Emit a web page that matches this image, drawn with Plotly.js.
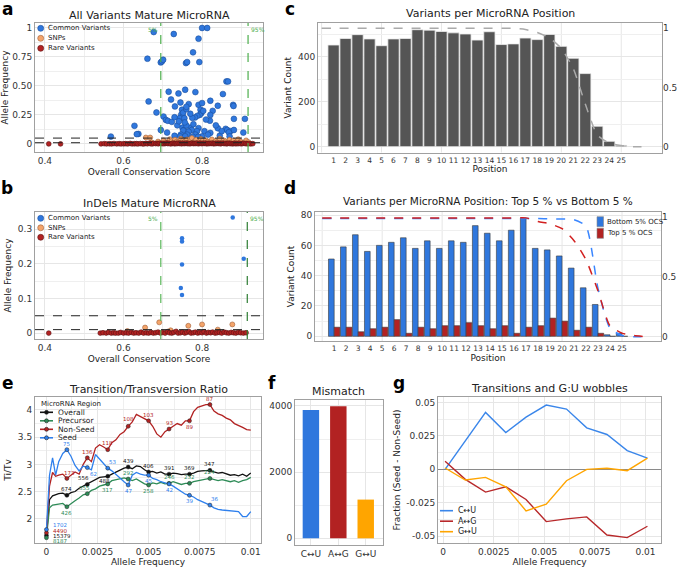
<!DOCTYPE html>
<html><head><meta charset="utf-8">
<script src="https://cdn.plot.ly/plotly-3.0.1.min.js"></script>
<style>html,body{margin:0;padding:0;background:#fff}#chart{width:677px;height:568px}</style>
</head><body><div id="chart"></div><script>
// ---------- Panel a: All Variants Mature MicroRNA ----------
const aCommonX = [0.677,0.728,0.800,0.813,0.791,0.777,0.661,0.695,0.698,0.701,0.759,0.762,0.793,0.862,0.866,0.853,0.715,0.757,0.783,0.740,0.721,0.664,0.821,0.745,0.791,0.800,0.879,0.880,0.840,0.731,0.766,0.749,0.747,0.751,0.743,0.755,0.752,0.760,0.796,0.798,0.794,0.788,0.782,0.803,0.684,0.702,0.708,0.713,0.723,0.827,0.821,0.820,0.881,0.909,0.628,0.638,0.634,0.568,0.711,0.750,0.754,0.752,0.746,0.744,0.770,0.774,0.766,0.762,0.791,0.787,0.783,0.800,0.840,0.860,0.864,0.872,0.881,0.868,0.905,0.821,0.760,0.737,0.778,0.806,0.815,0.730,0.757,0.776,0.790,0.845,0.870,0.756,0.741,0.775,0.730,0.810,0.835,0.850,0.695,0.770,0.760];
const aCommonY = [0.965,0.948,1.0,1.0,0.908,0.79,0.735,0.703,0.712,0.726,0.697,0.706,0.706,0.539,0.539,0.43,0.45,0.467,0.447,0.435,0.383,0.366,0.372,0.357,0.337,0.352,0.337,0.327,0.329,0.323,0.343,0.295,0.252,0.236,0.222,0.222,0.27,0.3,0.295,0.265,0.25,0.242,0.228,0.285,0.271,0.236,0.207,0.199,0.19,0.285,0.25,0.2,0.216,0.216,0.156,0.086,0.084,0.063,0.098,0.14,0.12,0.115,0.08,0.065,0.14,0.12,0.105,0.08,0.136,0.11,0.08,0.065,0.135,0.13,0.12,0.11,0.12,0.1,0.098,0.095,0.16,0.16,0.17,0.11,0.08,0.07,0.065,0.062,0.06,0.07,0.065,0.185,0.195,0.225,0.23,0.21,0.16,0.11,0.12,0.26,0.32];
const aSnpX = [0.657,0.668,0.672,0.688,0.702,0.708,0.713,0.718,0.722,0.727,0.731,0.735,0.739,0.742,0.746,0.749,0.752,0.756,0.759,0.762,0.766,0.770,0.774,0.778,0.781,0.785,0.789,0.793,0.797,0.801,0.806,0.810,0.815,0.820,0.825,0.830,0.835,0.840,0.845,0.850,0.855,0.860,0.865,0.870,0.875,0.880,0.886,0.892,0.898,0.905,0.912,0.918];
const aSnpY = [0.055,0.055,0.012,0.02,0.03,0.015,0.01,0.04,0.022,0.012,0.035,0.018,0.008,0.025,0.045,0.012,0.03,0.02,0.01,0.038,0.015,0.028,0.05,0.012,0.022,0.035,0.01,0.018,0.042,0.025,0.012,0.03,0.02,0.015,0.038,0.01,0.025,0.018,0.045,0.012,0.03,0.022,0.01,0.035,0.015,0.028,0.012,0.04,0.02,0.01,0.03,0.015];
const aRareX = [0.41,0.44,0.543,0.551,0.557,0.564,0.57,0.576,0.583,0.589,0.594,0.601,0.606,0.611,0.617,0.622,0.628,0.633,0.637,0.643,0.648,0.652,0.657,0.661,0.666,0.669,0.673,0.677,0.682,0.686,0.689,0.693,0.697,0.70,0.703,0.707,0.71,0.713,0.716,0.72,0.724,0.727,0.73,0.733,0.736,0.739,0.742,0.745,0.748,0.751,0.754,0.757,0.76,0.763,0.766,0.769,0.772,0.775,0.778,0.781,0.784,0.787,0.79,0.793,0.796,0.799,0.802,0.805,0.808,0.811,0.814,0.817,0.82,0.823,0.826,0.829,0.832,0.835,0.838,0.841,0.844,0.847,0.85,0.853,0.856,0.859,0.862,0.865,0.868,0.871,0.874,0.877,0.88,0.883,0.886,0.889,0.892,0.895,0.899,0.903,0.907,0.911,0.915,0.919,0.924,0.929];
const aRareY = [0,0,
 0,0.002,0,0.001,0,0.003,0,0.002,0,0.001,
 0.002,0,0.004,0,0.001,0.002,0,0.003,0.001,0,
 0.004,0.001,0.006,0.002,0,0.005,0.002,0.004,0.001,0.006,
 0.002,0.005,0.001,0.004,0.007,0.002,0.005,0,0.003,0.006,
 0.001,0.004,0.002,0.007,0.003,0.005,0.001,0.006,0.002,0.004,
 0.006,0.002,0.005,0.001,0.004,0.007,0.002,0.005,0.003,0.006,
 0.001,0.004,0.006,0.002,0.005,0.003,0.007,0.001,0.004,0.002,
 0.005,0.003,0.006,0.001,0.004,0.002,0.006,0.003,0.005,0.001,
 0.004,0.006,0.002,0.005,0.001,0.003,0.006,0.002,0.004,0.001,
 0.003,0.005,0.001,0.004,0.002,0.006,0.001,0.003,0.005,0.002,
 0.001,0.003,0,0.002];
// ---------- Panel b: InDels Mature MicroRNA ----------
const bCommonX = [0.878,0.749,0.749,0.749,0.746,0.749,0.906];
const bCommonY = [0.333,0.273,0.264,0.198,0.13,0.11,0.214];
const bSnpX = [0.655,0.691,0.765,0.800,0.877,0.720,0.840,0.610];
const bSnpY = [0.016,0.031,0.021,0.025,0.025,0.008,0.010,0.006];
const bRareX = [0.41,0.541,0.548,0.556,0.562,0.569,0.575,0.58,0.587,0.593,0.6,0.607,0.613,0.62,0.626,0.632,0.639,0.645,0.651,0.658,0.664,0.67,0.676,0.682,0.688,0.694,0.70,0.706,0.712,0.717,0.723,0.728,0.734,0.739,0.745,0.75,0.756,0.761,0.767,0.772,0.778,0.783,0.789,0.794,0.8,0.805,0.811,0.816,0.822,0.827,0.833,0.838,0.844,0.85,0.856,0.862,0.868,0.874,0.88,0.886,0.892,0.898,0.905,0.912];
const bRareY = [0, 0,0.001,0,0.002,0,0.001,0,0,0.002,0, 0.001,0,0.002,0,0.001,0,0.003,0,0.001,0, 0.002,0,0.001,0.003,0,0.002,0,0.004,0.001,0, 0.002,0.005,0,0.001,0.003,0,0.002,0.004,0,0.001, 0.003,0,0.002,0.001,0.004,0,0.002,0.001,0.003,0, 0.001,0.002,0,0.003,0.001,0,0.002,0.001,0,0.002, 0.001,0,0.001];
const lowThresholds = [0.05, 0.01];
const aPercentileLines = [0.695, 0.917];
const bPercentileLines = [0.695, 0.915];
// ---------- Panel c: Variants per MicroRNA Position ----------
const positions = [1,2,3,4,5,6,7,8,9,10,11,12,13,14,15,16,17,18,19,20,21,22,23,24,25];
const cCounts = [452,481,498,479,449,479,481,520,518,512,506,501,474,511,454,457,483,476,499,446,393,325,91,24,6];
const curvePos = [0,1,2,3,4,5,6,7,8,9,10,11,12,13,14,15,16,17,18,19,20,21,22,23,24,25,26,27];
const cCurve = [1,1,1,1,1,1,1,1,1,1,1,1,1,1,1,1,1,0.99,0.965,0.92,0.83,0.66,0.36,0.1,0.03,0.01,0.0,0.0];
// ---------- Panel d: Top 5 % vs Bottom 5 % ----------
const dBottom = [51,59,67,56,60,62,65,58,63,58,63,62,73,68,63,70,78,58,57,53,45,32,21,1,2];
const dTop = [6,6,3,5,6,11,2,6,5,7,7,9,7,5,7,2,6,7,12,10,4,6,2,0,0];
const dBottomCurve = [0.985,0.985,0.985,0.985,0.985,0.985,0.985,0.985,0.985,0.985,0.985,0.985,0.985,0.985,0.985,0.985,0.985,0.985,0.985,0.982,0.98,0.975,0.92,0.4,0.07,0.01,0,0];
const dTopCurve = [0.99,0.99,0.99,0.99,0.99,0.99,0.99,0.99,0.99,0.99,0.99,0.99,0.99,0.99,0.99,0.99,0.99,0.99,0.96,0.94,0.9,0.8,0.64,0.38,0.09,0.03,0.01,0];
// ---------- Panel e: Transition/Transversion Ratio ----------
const eX = [0,0.00015,0.0003,0.00045,0.0006,0.0008,0.001,0.0012,0.0014,0.0016,0.0018,0.002,0.0022,0.0024,0.0026,0.0028,0.003,0.0032,0.0034,0.0036,0.0038,0.004,0.0042,0.0044,0.0046,0.0048,0.005,0.0052,0.0054,0.0056,0.0058,0.006,0.0062,0.0064,0.0066,0.0068,0.007,0.0072,0.0074,0.0076,0.0078,0.008,0.0082,0.0084,0.0086,0.0088,0.009,0.0092,0.0094,0.0096,0.0098,0.01];
const eOverall = [1.69,2.35,2.42,2.44,2.46,2.47, 2.43,2.48,2.5,2.56,2.6, 2.63,2.68,2.72,2.76,2.77, 2.78,2.82,2.86,2.9,2.93, 2.95,2.92,2.97,2.96,2.9, 2.86,2.87,2.84,2.86,2.82, 2.82,2.84,2.83,2.81,2.82, 2.82,2.84,2.87,2.88,2.89, 2.89,2.86,2.84,2.85,2.83, 2.8,2.81,2.79,2.82,2.78, 2.84];
const ePrecursor = [1.65,2.2,2.25,2.26,2.27,2.28, 2.22,2.28,2.33,2.38,2.44, 2.46,2.52,2.55,2.6,2.62, 2.64,2.7,2.72,2.74,2.75, 2.73,2.7,2.73,2.68,2.64, 2.62,2.66,2.64,2.67,2.64, 2.65,2.68,2.65,2.63,2.65, 2.65,2.68,2.7,2.72,2.73, 2.74,2.72,2.7,2.72,2.7, 2.68,2.7,2.67,2.7,2.72, 2.76];
const eNonSeed = [1.74,2.6,2.85,2.78,2.8,2.82, 2.74,2.8,2.86,2.82,3.0, 3.12,3.05,3.3,3.36,3.32, 3.27,3.4,3.45,3.55,3.6, 3.7,3.78,3.92,3.88,3.85, 3.8,3.7,3.56,3.5,3.6, 3.65,3.7,3.75,3.72,3.8, 3.8,3.97,4.05,4.08,4.1, 4.1,3.98,3.93,3.9,3.85, 3.82,3.75,3.72,3.68,3.64, 3.63];
const eSeed = [1.8,2.8,3.12,2.8,3.05,3.2, 3.27,3.15,2.98,2.88,2.97, 2.94,2.9,3.18,3.1,3.0, 2.93,2.88,2.82,2.75,2.68, 2.62,2.8,2.85,2.82,2.8, 2.8,2.74,2.72,2.68,2.66, 2.64,2.6,2.55,2.5,2.45, 2.43,2.4,2.35,2.32,2.28, 2.25,2.2,2.17,2.16,2.15, 2.14,2.13,2.13,2.04,2.04, 2.13];
const eMarkX = [0,0.001,0.002,0.003,0.004,0.005,0.006,0.007,0.008];
const nOverall = [15379,674,556,488,439,406,391,369,347];
const nPrecursor = [8187,426,355,317,292,258,246,232,224];
const nNonSeed = [4490,173,136,118,108,103,93,89,87];
const nSeed = [1702,75,62,53,47,45,42,39,36];
// ---------- Panel f: Mismatch ----------
const mismatchLabels = ['C\u2194U','A\u2194G','G\u2194U'];
const mismatchCounts = [3880,3990,1170];
// ---------- Panel g: Transitions and G:U wobbles ----------
const gX = [0.0001,0.0011,0.0021,0.0031,0.0041,0.0051,0.0061,0.0071,0.0081,0.0091,0.0101];
const gCU = [0,0.021,0.0425,0.0275,0.039,0.048,0.045,0.031,0.026,0.014,0.0083];
const gAG = [0.006,-0.0075,-0.017,-0.013,-0.0225,-0.039,-0.037,-0.0355,-0.049,-0.051,-0.0425];
const gGU = [0.001,-0.008,-0.006,-0.013,-0.031,-0.026,-0.0085,0.0,0.0008,-0.001,0.0083];

// ---------- styling ----------
const W = 677, H = 568;
const FONT = 'DejaVu Sans, sans-serif';
const BLUE = '#2f77dd', RED = '#b22222', GREEN = '#2e8b57', ORANGE = '#ffa500', SNP = '#f4a46a', BLACK = '#111111';
const dx = (l, r) => [l / W, r / W];
const dy = (t, b) => [1 - b / H, 1 - t / H];
const px = v => v / W, py = v => 1 - v / H;
function axis(o) {
  return Object.assign({showline:true, mirror:true, linecolor:'#a0a0a0', linewidth:1, showgrid:true,
    gridcolor:'#e6e6e6', gridwidth:1, zeroline:false, ticks:'', fixedrange:true,
    tickfont:{family:FONT, size:9, color:'#333'}}, o);
}
function atitle(t, s) { return {text:t, font:{family:FONT, size:9, color:'#222'}, standoff:s}; }
const minorGrid = vals => ({tickvals:vals, showgrid:true, gridcolor:'#efefef', ticks:''});

const traces = [];
// a
traces.push({type:'scatter', mode:'markers', x:aCommonX, y:aCommonY, xaxis:'x', yaxis:'y', name:'Common Variants',
  marker:{color:BLUE, size:5.8, line:{color:'#1b4f9c', width:0.6}}});
traces.push({type:'scatter', mode:'markers', x:aSnpX, y:aSnpY, xaxis:'x', yaxis:'y', name:'SNPs',
  marker:{color:SNP, size:5, line:{color:'#a0603a', width:0.6}}});
traces.push({type:'scatter', mode:'markers', x:aRareX, y:aRareY, xaxis:'x', yaxis:'y', name:'Rare Variants',
  marker:{color:RED, size:4.8, line:{color:'#5a1212', width:0.6}}});
// b
traces.push({type:'scatter', mode:'markers', x:bCommonX, y:bCommonY, xaxis:'x2', yaxis:'y2', name:'Common Variants',
  marker:{color:BLUE, size:4.5}});
traces.push({type:'scatter', mode:'markers', x:bSnpX, y:bSnpY, xaxis:'x2', yaxis:'y2', name:'SNPs',
  marker:{color:SNP, size:5, line:{color:'#a0603a', width:0.6}}});
traces.push({type:'scatter', mode:'markers', x:bRareX, y:bRareY, xaxis:'x2', yaxis:'y2', name:'Rare Variants',
  marker:{color:RED, size:4.8, line:{color:'#5a1212', width:0.6}}});
// c
traces.push({type:'bar', x:positions, y:cCounts, xaxis:'x3', yaxis:'y3', width:0.94,
  marker:{color:'#555555', line:{color:'#eeeeee', width:0.8}}});
traces.push({type:'scatter', mode:'lines', x:curvePos, y:cCurve, xaxis:'x3', yaxis:'y4',
  line:{color:'#aaaaaa', width:1.5, dash:'dash', shape:'spline', smoothing:0.6}});
// d
traces.push({type:'bar', x:positions, y:dBottom, xaxis:'x4', yaxis:'y5', name:'Bottom 5% OCS',
  marker:{color:BLUE, line:{color:'#3a3a3a', width:0.6}}});
traces.push({type:'bar', x:positions, y:dTop, xaxis:'x4', yaxis:'y5', name:'Top 5 % OCS',
  marker:{color:RED, line:{color:'#3a3a3a', width:0.6}}});
traces.push({type:'scatter', mode:'lines', x:curvePos, y:dBottomCurve, xaxis:'x4', yaxis:'y6',
  line:{color:'#3a86ff', width:1.5, dash:'dash', shape:'spline', smoothing:0.6}});
traces.push({type:'scatter', mode:'lines', x:curvePos, y:dTopCurve, xaxis:'x4', yaxis:'y6',
  line:{color:'#d22020', width:1.5, dash:'dash', shape:'spline', smoothing:0.6}});
// e
const eSeries = [
  {name:'Overall', y:eOverall, c:BLACK, n:nOverall},
  {name:'Precursor', y:ePrecursor, c:GREEN, n:nPrecursor},
  {name:'Non-Seed', y:eNonSeed, c:RED, n:nNonSeed},
  {name:'Seed', y:eSeed, c:'#2f80ed', n:nSeed}
];
const markIdx = eMarkX.map(v => eX.findIndex(x => Math.abs(x - v) < 1e-9));
eSeries.forEach(s => {
  traces.push({type:'scatter', mode:'lines', x:eX, y:s.y, xaxis:'x5', yaxis:'y7', name:s.name,
    line:{color:s.c, width:1.3}});
});
eSeries.forEach(s => {
  traces.push({type:'scatter', mode:'markers', x:eMarkX, y:markIdx.map(i => s.y[i]), xaxis:'x5', yaxis:'y7',
    marker:{color:s.c, size:4, line:{color:'#222', width:0.5}}});
});
// f
traces.push({type:'bar', x:mismatchLabels, y:mismatchCounts, xaxis:'x6', yaxis:'y8', width:0.6,
  marker:{color:['#2f77dd', RED, ORANGE]}});
// g
[['C\u2194U', gCU, '#3a86ea'], ['A\u2194G', gAG, '#b8282a'], ['G\u2194U', gGU, ORANGE]].forEach(([n, ys, c]) => {
  traces.push({type:'scatter', mode:'lines', x:gX, y:ys, xaxis:'x7', yaxis:'y9', name:n, line:{color:c, width:1.4}});
});

// ---------- shapes & annotations ----------
const shapes = [], ann = [];
function addText(x, y, text, size, color, opts) {
  ann.push(Object.assign({xref:'paper', yref:'paper', x:px(x), y:py(y), text:text, showarrow:false,
    xanchor:'center', yanchor:'middle', font:{family:FONT, size:size, color:color}}, opts || {}));
}
// panel letters & titles
[['a',7,9],['b',7,188],['c',290,9],['d',290,188],['e',8,383],['f',272,383],['g',399,383]].forEach(([t,x,y]) =>
  addText(x, y, '<b>' + t + '</b>', 17, '#000'));
addText(149, 15, 'All Variants Mature MicroRNA', 11, '#222');
addText(149, 204, 'InDels Mature MicroRNA', 11, '#222');
addText(490, 13, 'Variants per MicroRNA Position', 11, '#222');
addText(488, 201, 'Variants per MicroRNA Position: Top 5 % vs Bottom 5 %', 10.5, '#222');
addText(148, 389, 'Transition/Transversion Ratio', 11, '#222');
addText(338, 391, 'Mismatch', 11, '#222');
addText(549, 388, 'Transitions and G:U wobbles', 11, '#222');

// threshold lines a/b
[['x','y',aPercentileLines,'#4cae4c','#4cae4c'],['x2','y2',bPercentileLines,'#5cb85c','#2e7d32']].forEach(([xr, yr, pl, c1, c2]) => {
  lowThresholds.forEach(v => shapes.push({type:'line', xref:xr + ' domain', yref:yr, x0:0, x1:1, y0:v, y1:v,
    line:{color:'#222', width:1, dash:'dash'}}));
  shapes.push({type:'line', xref:xr, yref:yr + ' domain', x0:pl[0], x1:pl[0], y0:0, y1:1, line:{color:c1, width:1.2, dash:'dash'}});
  shapes.push({type:'line', xref:xr, yref:yr + ' domain', x0:pl[1], x1:pl[1], y0:0, y1:1, line:{color:c2, width:1.2, dash:'dash'}});
  ann.push({xref:xr, yref:yr + ' domain', x:pl[0], y:0.99, text:'5%', showarrow:false, xanchor:'right', yanchor:'top',
    xshift:-1, font:{family:FONT, size:6, color:'#4cae4c'}});
  ann.push({xref:xr, yref:yr + ' domain', x:pl[1], y:0.99, text:'95%', showarrow:false, xanchor:'left', yanchor:'top',
    xshift:1, font:{family:FONT, size:6, color:'#4cae4c'}});
});
// vertical grid for c, d
[0,5,10,15,20,25].forEach(v => {
  shapes.push({type:'line', xref:'x3', yref:'y3 domain', x0:v, x1:v, y0:0, y1:1, layer:'below', line:{color:'#e6e6e6', width:1}});
  shapes.push({type:'line', xref:'x4', yref:'y5 domain', x0:v, x1:v, y0:0, y1:1, layer:'below', line:{color:'#e6e6e6', width:1}});
});
// e count labels: [yshift, xshift]
const eShift = {
  Overall:[[0,0],[6,0],[6,-4],[-5,-3],[6,0],[6,0],[6,0],[6,0],[6,0]],
  Precursor:[[0,0],[-6,0],[6,-3],[-6,0],[6,0],[-6,0],[6,0],[6,0],[6,0]],
  'Non-Seed':[[0,0],[5,3],[6,0],[7,0],[7,0],[6,0],[6,0],[-6,0],[6,0]],
  Seed:[[0,0],[6,0],[-6,6],[6,5],[-6,0],[-6,0],[-6,0],[-6,0],[6,5]]
};
const zeroShift = {Overall:0, Precursor:-3, 'Non-Seed':2, Seed:5};
eSeries.forEach(s => {
  s.n.forEach((n, k) => {
    const yv = s.y[markIdx[k]];
    if (k === 0) {
      ann.push({xref:'x5', yref:'y7', x:eMarkX[k], y:yv, text:String(n), showarrow:false, xanchor:'left', yanchor:'middle',
        xshift:5, yshift:zeroShift[s.name], font:{family:FONT, size:5.5, color:s.c}});
    } else {
      ann.push({xref:'x5', yref:'y7', x:eMarkX[k], y:yv, text:String(n), showarrow:false, xanchor:'center', yanchor:'middle',
        yshift:eShift[s.name][k][0], xshift:eShift[s.name][k][1], font:{family:FONT, size:5.5, color:s.c}});
    }
  });
});

// custom compact legends
function legDot(x, y, r, fill, edge) {
  shapes.push({type:'circle', xref:'paper', yref:'paper', x0:px(x - r), x1:px(x + r), y0:py(y + r), y1:py(y - r),
    fillcolor:fill, line:{color:edge, width:0.6}});
}
function legLine(x0, x1, y, color) {
  shapes.push({type:'line', xref:'paper', yref:'paper', x0:px(x0), x1:px(x1), y0:py(y), y1:py(y), line:{color:color, width:1.6}});
}
function legRect(x0, y0, x1, y1, fill) {
  shapes.push({type:'rect', xref:'paper', yref:'paper', x0:px(x0), x1:px(x1), y0:py(y1), y1:py(y0), fillcolor:fill, line:{color:'#888', width:0.6}});
}
function legText(x, y, t, size) { addText(x, y, t, size, '#222', {xanchor:'left'}); }
[[28.3,'Common Variants',BLUE,'#1b4f9c'],[38.3,'SNPs',SNP,'#a0603a'],[48.3,'Rare Variants',RED,'#5a1212']].forEach(([y,t,c,e]) => {
  legDot(40.7, y, 3, c, e); legText(45.5, y, t, 7);
});
[[218.3,'Common Variants',BLUE,'#1b4f9c'],[227.8,'SNPs',SNP,'#a0603a'],[237.3,'Rare Variants',RED,'#5a1212']].forEach(([y,t,c,e]) => {
  legDot(40.7, y, 3, c, e); legText(45.5, y, t, 7);
});
legRect(597, 216.7, 603.5, 226.7, BLUE); legText(604.5, 221.7, 'Bottom 5% OCS', 7);
legRect(597, 228.3, 603.5, 238.3, RED); legText(604.5, 233.3, 'Top 5 % OCS', 7);
addText(39, 404, 'MicroRNA Region', 7, '#222', {xanchor:'left'});
eSeries.forEach((s, i) => {
  const y = 412.3 + i * 8.5;
  legLine(40, 53, y, s.c); legDot(46.5, y, 2, s.c, '#222'); legText(56, y, s.name, 7.5);
});
[['C\u2194U','#3a86ea'],['A\u2194G','#b8282a'],['G\u2194U',ORANGE]].forEach(([t,c], i) => {
  const y = 510.7 + i * 10.5;
  legLine(440, 453, y, c); legText(456, y, t, 8);
});

const layout = {
  width:W, height:H, margin:{l:0, r:0, t:0, b:0}, paper_bgcolor:'#fff', plot_bgcolor:'#fff',
  showlegend:false, hovermode:false, bargap:0.05, bargroupgap:0, barmode:'group',
  font:{family:FONT, size:9, color:'#222'},
  xaxis: axis({domain:dx(35,263), range:[0.375,0.955], tickvals:[0.4,0.6,0.8], ticktext:['0.4','0.6','0.8'],
    minor:minorGrid([0.5,0.7,0.9]), anchor:'y', title:atitle('Overall Conservation Score', 3)}),
  yaxis: axis({domain:dy(23,152), range:[-0.07,1.043], tickvals:[0,0.25,0.5,0.75,1], ticktext:['0','0.25','0.50','0.75','1'],
    minor:minorGrid([0.125,0.375,0.625,0.875]), anchor:'x', title:atitle('Allele Frequency', 4)}),
  xaxis2: axis({domain:dx(35,263), range:[0.375,0.955], tickvals:[0.4,0.6,0.8], ticktext:['0.4','0.6','0.8'],
    minor:minorGrid([0.5,0.7,0.9]), anchor:'y2', title:atitle('Overall Conservation Score', 3)}),
  yaxis2: axis({domain:dy(212,339), range:[-0.017,0.349], tickvals:[0,0.1,0.2,0.3], ticktext:['0','0.1','0.2','0.3'],
    minor:minorGrid([0.05,0.15,0.25]), anchor:'x2', title:atitle('Allele Frequency', 4)}),
  xaxis3: axis({domain:dx(318,662), range:[-0.3,28.4], tickvals:positions, showgrid:false, anchor:'y3', tickangle:0,
    tickfont:{family:FONT, size:7.5, color:'#333'}, title:atitle('Position', 2)}),
  yaxis3: axis({domain:dy(23,152.5), range:[-25.8,549.8], tickvals:[0,200,400], minor:minorGrid([100,300,500]),
    anchor:'x3', title:atitle('Variant Count', 4)}),
  yaxis4: axis({overlaying:'y3', side:'right', anchor:'x3', range:[-0.049,1.045], tickvals:[0,0.5,1], ticktext:['0','0.5','1'],
    showgrid:false, showline:false}),
  xaxis4: axis({domain:dx(315,661), range:[-0.6,28.25], tickvals:positions, showgrid:false, anchor:'y5', tickangle:0,
    tickfont:{family:FONT, size:7.5, color:'#333'}, title:atitle('Position', 2)}),
  yaxis5: axis({domain:dy(212,341), range:[-3.1,82.0], tickvals:[0,20,40,60,80], minor:minorGrid([10,30,50,70]),
    anchor:'x4', title:atitle('Variant Count', 4)}),
  yaxis6: axis({overlaying:'y5', side:'right', anchor:'x4', range:[-0.036,1.039], tickvals:[0,0.5,1], ticktext:['0','0.5','1'],
    showgrid:false, showline:false}),
  xaxis5: axis({domain:dx(35,261), range:[-0.00056,0.0105], tickvals:[0,0.0025,0.005,0.0075,0.01],
    ticktext:['0','0.0025','0.005','0.0075','0.01'], minor:minorGrid([0.00125,0.00375,0.00625,0.00875]), anchor:'y7',
    title:atitle('Allele Frequency', 2)}),
  yaxis7: axis({domain:dy(397,543), range:[1.553,4.239], tickvals:[2,2.5,3,3.5,4], ticktext:['2','2.5','3','3.5','4'],
    minor:minorGrid([2.25,2.75,3.25,3.75]), anchor:'x5', title:atitle('Ti/Tv', 4)}),
  xaxis6: axis({domain:dx(295,383), type:'category', range:[-0.58,2.63], anchor:'y8', showgrid:true}),
  yaxis8: axis({domain:dy(400,545), range:[-202,4179], tickvals:[0,2000,4000], minor:minorGrid([1000,3000]), anchor:'x6'}),
  xaxis7: axis({domain:dx(438,661), range:[-0.00025,0.01077], tickvals:[0,0.0025,0.005,0.0075,0.01],
    ticktext:['0','0.0025','0.005','0.0075','0.01'], minor:minorGrid([0.00125,0.00375,0.00625,0.00875]), anchor:'y9',
    title:atitle('Allele Frequency', 2)}),
  yaxis9: axis({domain:dy(397,543), range:[-0.055,0.054], tickvals:[-0.05,-0.025,0,0.025,0.05],
    ticktext:['-0.05','-0.025','0','0.025','0.05'], minor:minorGrid([-0.0375,-0.0125,0.0125,0.0375]), anchor:'x7',
    zeroline:true, zerolinecolor:'#8a8a8a', zerolinewidth:1, title:atitle('Fraction (Seed - Non-Seed)', 4)}),
  shapes:shapes, annotations:ann
};
Plotly.newPlot('chart', traces, layout, {staticPlot:true, displayModeBar:false});
</script></body></html>
